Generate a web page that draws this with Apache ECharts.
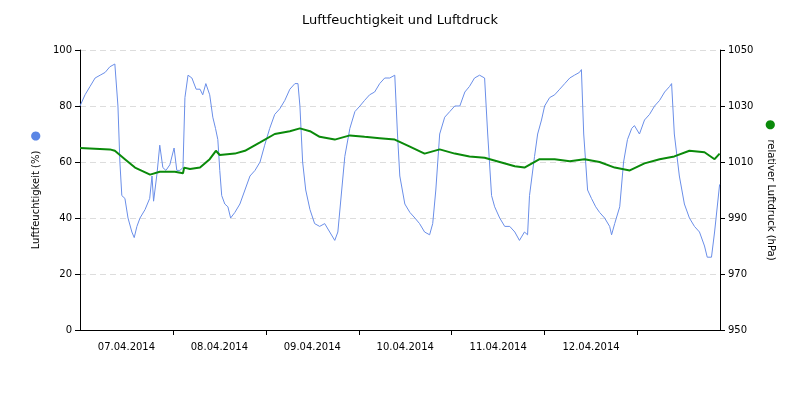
<!DOCTYPE html>
<html>
<head>
<meta charset="utf-8">
<script src="https://cdn.jsdelivr.net/npm/echarts@6/dist/echarts.min.js"></script>
<style>html,body{margin:0;background:#fff}#c{width:800px;height:400px}</style>
</head>
<body>
<div id="c"></div>
<script>
// hours since 07.04.2014 00:00
var humHours = [0,1.3,2.6,3.9,5.2,6.5,7.7,9,9.5,9.8,10.3,10.8,11.6,12.4,13.4,14,14.7,15.5,16.8,18,18.6,19,19.9,20.6,21.4,22.2,23.2,24.3,25,25.8,26.6,27.1,27.9,28.9,30,31,31.7,32.5,33.5,34.3,35,35.6,36.1,36.6,37.4,38.2,38.9,40,41.3,42.6,43.9,45.2,46.5,47.7,49,50.3,51.6,52.9,54.2,55.5,56.3,56.8,57.5,58.3,59.4,60.6,61.9,63.2,64.5,65.8,66.6,67.6,68.4,69.7,71,72.3,73.5,74.8,76.1,77.4,78.7,80,81.3,82,82.6,83.9,85.2,86.5,87.7,89,90.3,91.1,91.9,92.9,94.2,95.5,96.8,98.1,99.4,100.6,101.9,103.2,104.5,105.3,106.3,107.1,108.4,109.7,111,112.3,113.5,114.8,115.6,116.1,117.4,118.2,119.2,120,121.3,122.6,123.9,125.2,126.5,127.7,129,129.5,130.1,131.1,132.1,133.2,134.2,135.5,136.8,137.3,138.1,139.4,140.4,141.4,142.5,143.2,144.5,145.8,147.1,148.4,149.7,151,152.3,152.8,153.5,154.8,156.1,157.4,158.7,160,161.3,162,163.1,163.9,165.2];
var humidity = [80,84,87,90,91,92,94,95,95,80,60,48,47,40,35,33,37,40,43,47,55,46,56,66,58,57,59,65,57,57,58,83,91,90,86,86,84,88,84,76,72,68,57,48,45,44,40,42,45,50,55,57,60,66,72,77,79,82,86,88,88,80,60,50,43,38,37,38,35,32,35,50,62,72,78,80,82,84,85,88,90,90,91,70,55,45,42,40,38,35,34,38,50,70,76,78,80,80,85,87,90,91,90,70,48,44,40,37,37,35,32,35,34,48,62,70,75,80,83,84,86,88,90,91,92,93,70,50,47,44,42,40,37,34,38,44,60,68,72,73,70,75,77,80,82,85,87,88,70,55,45,40,37,35,30,26,26,35,52];
var presHours = [0,7.7,9,11.6,14.2,18.1,20.6,24.5,26.6,26.9,28.4,31,33.5,35.1,36.1,40,42.6,46.5,50.3,54.2,56.8,59.4,61.9,65.8,69.7,73.5,77.4,81.3,85.2,89,92.9,96.8,100.6,104.5,108.4,112.3,114.8,118.7,122.6,126.5,130.3,134.2,138.1,142,145.8,149.7,153.5,157.4,161.3,163.9,165.2];
var pressure = [1015,1014.5,1014,1011,1008,1005.5,1006.5,1006.5,1006,1008,1007.5,1008,1011,1014,1012.5,1013,1014,1017,1020,1021,1022,1021,1019,1018,1019.5,1019,1018.5,1018,1015.5,1013,1014.5,1013,1012,1011.5,1010,1008.5,1008,1011,1011,1010.3,1011,1010,1008,1007,1009.5,1011,1012,1014,1013.5,1011,1013];
var dayTicks = [24, 48, 72, 96, 120, 144];
var dayLabelPos = [12, 36, 60, 84, 108, 132];
var dayLabels = ['07.04.2014', '08.04.2014', '09.04.2014', '10.04.2014', '11.04.2014', '12.04.2014'];

function zip(a, b) { return a.map(function(v, i) { return [v, b[i]]; }); }

var font = 'DejaVu Sans';
var chart = echarts.init(document.getElementById('c'));
chart.setOption({
  animation: false,
  textStyle: { fontFamily: font },
  title: { text: 'Luftfeuchtigkeit und Luftdruck', left: 'center', top: 9,
    textStyle: { fontSize: 13, fontWeight: 'normal', color: '#000', fontFamily: font } },
  grid: { left: 80, right: 80, top: 50, bottom: 70 },
  xAxis: {
    type: 'value', min: 0, max: 165.3,
    axisLine: { onZero: false, lineStyle: { color: '#000' } },
    axisTick: { show: true, length: 5, customValues: dayTicks, lineStyle: { color: '#000' } },
    axisLabel: { fontSize: 10, color: '#000', margin: 12, customValues: dayLabelPos,
      formatter: function(v) { return dayLabels[dayLabelPos.indexOf(v)] || ''; } },
    splitLine: { show: false }
  },
  yAxis: [{
    type: 'value', min: 0, max: 100, interval: 20,
    name: 'Luftfeuchtigkeit (%)   {d|●}', nameLocation: 'middle', nameGap: 36, nameRotate: 90,
    nameTextStyle: { fontSize: 10, color: '#000', rich: { d: { color: '#5b86e5', fontSize: 12 } } },
    axisLine: { show: true, onZero: false, lineStyle: { color: '#000' } },
    axisTick: { show: true, length: 5, lineStyle: { color: '#000' } },
    axisLabel: { fontSize: 10, color: '#000', margin: 8 },
    splitLine: { lineStyle: { color: '#ddd', type: [6, 4] } }
  }, {
    type: 'value', min: 950, max: 1050, interval: 20,
    name: '{d|●}   relativer Luftdruck (hPa)', nameLocation: 'middle', nameGap: 36, nameRotate: -90,
    nameTextStyle: { fontSize: 10, color: '#000', rich: { d: { color: '#0a8a0a', fontSize: 12 } } },
    axisLine: { show: true, onZero: false, lineStyle: { color: '#000' } },
    axisTick: { show: true, length: 5, lineStyle: { color: '#000' } },
    axisLabel: { fontSize: 10, color: '#000', margin: 8, formatter: function(v) { return String(v); } },
    splitLine: { show: false }
  }],
  series: [{
    type: 'line', name: 'Luftfeuchtigkeit', yAxisIndex: 0,
    data: zip(humHours, humidity), showSymbol: false,
    lineStyle: { color: '#6a8ee8', width: 1 }
  }, {
    type: 'line', name: 'Luftdruck', yAxisIndex: 1,
    data: zip(presHours, pressure), showSymbol: false,
    lineStyle: { color: '#0a8a0a', width: 2 }
  }]
});
</script>
</body>
</html>
